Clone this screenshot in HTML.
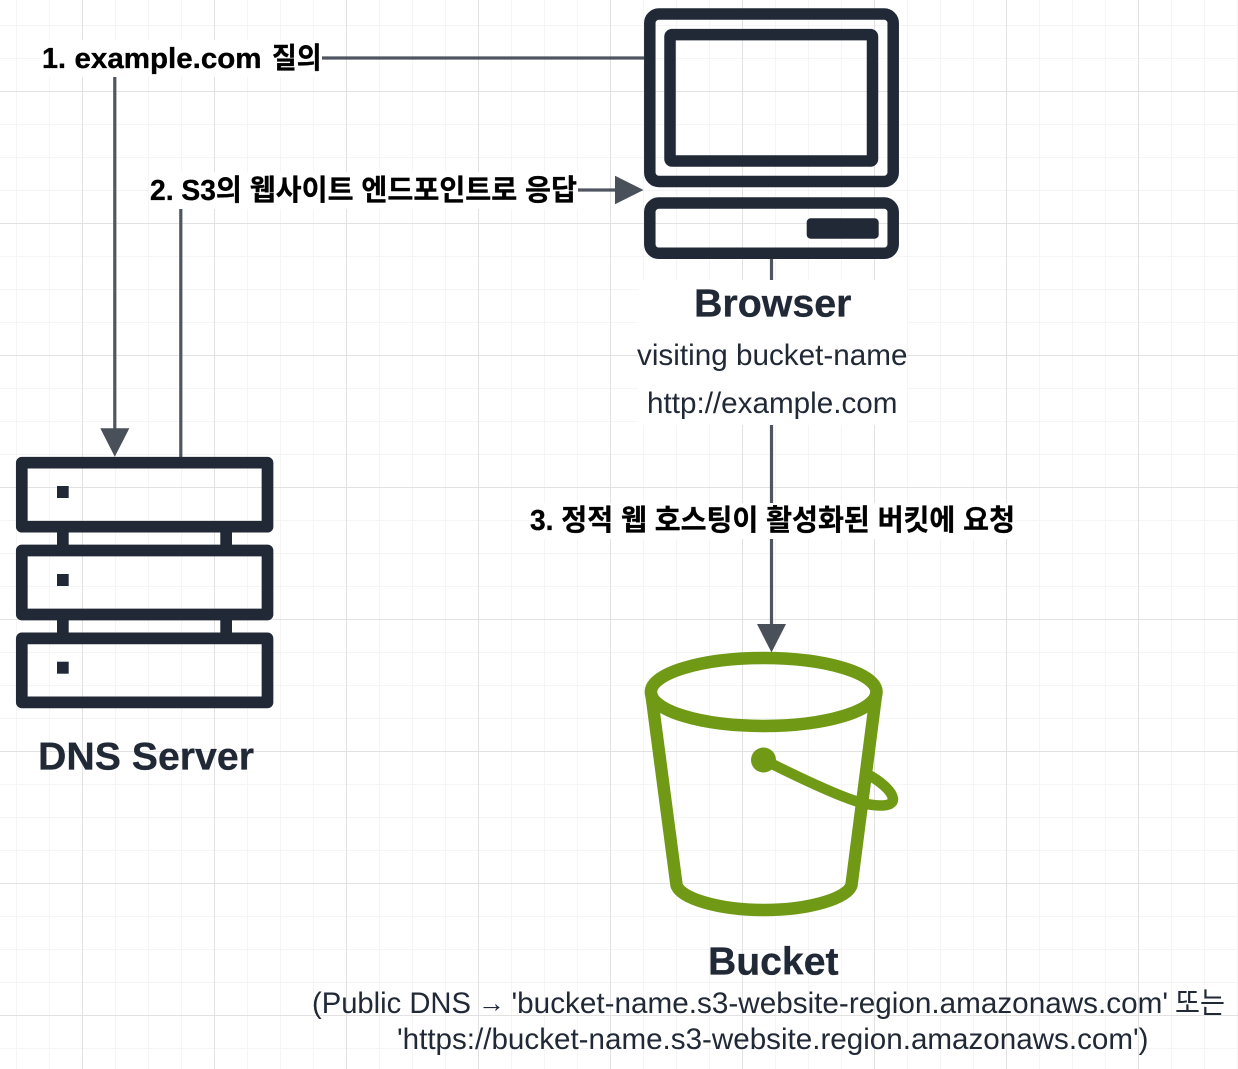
<!DOCTYPE html>
<html>
<head>
<meta charset="utf-8">
<style>
html,body{margin:0;padding:0;background:#fff;width:1238px;height:1069px;overflow:hidden}
svg{display:block}
text{font-family:"Liberation Sans","Noto Sans CJK KR",sans-serif;white-space:pre}
.b{font-weight:700;font-size:29px;fill:#000;stroke:#000;stroke-width:.35px}
.h{font-weight:700;font-size:39px;fill:#212936;stroke:#212936;stroke-width:.3px}
.r{font-size:29.5px;fill:#212936}
</style>
</head>
<body>
<svg width="1238" height="1069" viewBox="0 0 1238 1069" xmlns="http://www.w3.org/2000/svg">
<defs>
<pattern id="minor" x="16" y="25" width="33" height="33" patternUnits="userSpaceOnUse"><path d="M0.5 0V33M0 0.5H33" fill="none" stroke="#f5f5f5" stroke-width="1"/></pattern>
<pattern id="major" x="82" y="91" width="132" height="132" patternUnits="userSpaceOnUse"><path d="M0.5 0V132M0 0.5H132" fill="none" stroke="#e2e2e2" stroke-width="1"/></pattern>
</defs>
<rect width="1238" height="1069" fill="#fff"/>
<rect width="1238" height="1069" fill="url(#minor)"/>
<rect width="1238" height="1069" fill="url(#major)"/>

<!-- connectors -->
<g stroke="#4f5660" stroke-width="3.200" fill="none">
<path d="M322 58H644"/>
<path d="M114.800 77V430"/>
<path d="M180.800 209V457"/>
<path d="M578 190H616"/>
<path d="M771.500 259V626"/>
</g>
<g fill="#495059">
<path d="M100.300 428.300H129.300L114.800 456.800Z"/>
<path d="M615 175.700V204.200L643.500 190Z"/>
<path d="M757 624H786L771.500 652.500Z"/>
</g>

<!-- label backgrounds -->
<g fill="#fff">
<rect x="42" y="40" width="280" height="37"/>
<rect x="150" y="172" width="428" height="37"/>
<rect x="638" y="280" width="269" height="145"/>
<rect x="530" y="503" width="485" height="36"/>
</g>

<!-- browser icon -->
<g fill="none" stroke="#212936" stroke-width="11.500" stroke-linejoin="round">
<rect x="649.800" y="14" width="243.400" height="167.500" rx="9"/>
<rect x="670" y="34.600" width="202.500" height="126.400" rx="2"/>
<rect x="649.800" y="203" width="243.400" height="50.300" rx="9"/>
</g>
<rect x="806.700" y="218.300" width="72" height="20.400" rx="4" fill="#212936"/>

<!-- server icon -->
<g fill="none" stroke="#212936" stroke-width="11.700" stroke-linejoin="round">
<rect x="21.800" y="462.700" width="245.700" height="64"/>
<rect x="21.800" y="550.500" width="245.700" height="64"/>
<rect x="21.800" y="638.400" width="245.700" height="64"/>
</g>
<g fill="#212936">
<rect x="57" y="530" width="11.700" height="16"/>
<rect x="220.300" y="530" width="11.700" height="16"/>
<rect x="57" y="618" width="11.700" height="16"/>
<rect x="220.300" y="618" width="11.700" height="16"/>
<rect x="57" y="486" width="11.700" height="12"/>
<rect x="57" y="574" width="11.700" height="12"/>
<rect x="57" y="661.700" width="11.700" height="12"/>
</g>

<!-- bucket icon -->
<g fill="none" stroke="#709a16" stroke-linejoin="round" stroke-linecap="round">
<ellipse cx="763.700" cy="692" rx="112.800" ry="34" stroke-width="12.500"/>
<path d="M651.500 695L676.500 885C680 898 718 910 764 910C810 910 848 898 851.500 885L876 695" stroke-width="12.500"/>
<path d="M764 760C800 778 840 797 862 803C875 806 893 808 893 799C892 790 878 780 868 774.500" stroke-width="10.500"/>
</g>
<circle cx="763.500" cy="760" r="12.500" fill="#709a16"/>

<!-- labels -->
<text class="b" x="42" y="68" textLength="24" lengthAdjust="spacingAndGlyphs">1.</text>
<text class="b" x="74.500" y="68" textLength="187" lengthAdjust="spacingAndGlyphs">example.com</text>
<text class="b" x="272" y="68" textLength="49.500" lengthAdjust="spacingAndGlyphs">질의</text>
<text class="b" x="150" y="200" textLength="427" lengthAdjust="spacingAndGlyphs">2. S3의 웹사이트 엔드포인트로 응답</text>
<text class="b" x="530" y="530" textLength="485" lengthAdjust="spacingAndGlyphs">3. 정적 웹 호스팅이 활성화된 버킷에 요청</text>

<text class="h" x="694" y="316.500" textLength="157.500" lengthAdjust="spacingAndGlyphs">Browser</text>
<text class="r" x="637" y="365" textLength="270.500" lengthAdjust="spacingAndGlyphs">visiting bucket-name</text>
<text class="r" x="647" y="413" textLength="250.500" lengthAdjust="spacingAndGlyphs">http://example.com</text>

<text class="h" x="38" y="769.500" textLength="216" lengthAdjust="spacingAndGlyphs">DNS Server</text>
<text class="h" x="708" y="974.500" textLength="130.500" lengthAdjust="spacingAndGlyphs">Bucket</text>
<text class="r" x="312" y="1013" textLength="159" lengthAdjust="spacingAndGlyphs">(Public DNS</text>
<text class="r" x="478" y="1012" style="font-size:27px">→</text>
<text class="r" x="511.500" y="1013" textLength="656.500" lengthAdjust="spacingAndGlyphs">'bucket-name.s3-website-region.amazonaws.com'</text>
<text class="r" x="1175" y="1013" textLength="50" lengthAdjust="spacingAndGlyphs">또는</text>
<text class="r" x="397" y="1049" textLength="751.500" lengthAdjust="spacingAndGlyphs">'https://bucket-name.s3-website.region.amazonaws.com')</text>
</svg>
</body>
</html>
